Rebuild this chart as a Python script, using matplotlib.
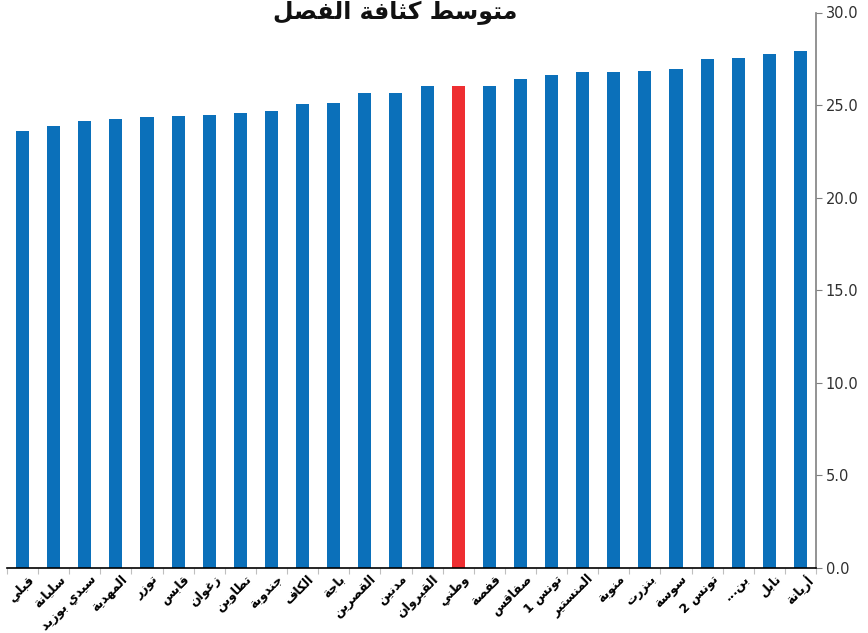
import matplotlib
matplotlib.use("Agg")
import matplotlib.pyplot as plt
import numpy as np

# ---------------- data ----------------
labels = ["قبلي", "سليانة", "سيدي بوزيد", "المهدية", "توزر", "قابس", "زغوان",
          "تطاوين", "جندوبة", "الكاف", "باجة", "القصرين", "مدنين", "القيروان",
          "وطني", "قفصة", "صفاقس", "تونس 1", "المنستير", "منوبة", "بنزرت",
          "سوسة", "تونس 2", "بن...", "نابل", "أريانة"]
values = [23.60, 23.87, 24.14, 24.24, 24.35, 24.41, 24.46, 24.57, 24.68, 25.05,
          25.11, 25.65, 25.65, 26.03, 26.03, 26.03, 26.40, 26.62, 26.78, 26.78,
          26.84, 26.94, 27.48, 27.54, 27.75, 27.92]
highlight = "وطني"
title = "متوسط كثافة الفصل"
yticks = [0, 5, 10, 15, 20, 25, 30]

# ---------------- minimal Arabic shaping (presentation forms) ----------------
FORMS = {
    '\u0627': ('\uFE8D', '\uFE8E', None, None),
    '\u0623': ('\uFE83', '\uFE84', None, None),
    '\u0625': ('\uFE87', '\uFE88', None, None),
    '\u0622': ('\uFE81', '\uFE82', None, None),
    '\u0628': ('\uFE8F', '\uFE90', '\uFE91', '\uFE92'),
    '\u0629': ('\uFE93', '\uFE94', None, None),
    '\u062A': ('\uFE95', '\uFE96', '\uFE97', '\uFE98'),
    '\u062B': ('\uFE99', '\uFE9A', '\uFE9B', '\uFE9C'),
    '\u062C': ('\uFE9D', '\uFE9E', '\uFE9F', '\uFEA0'),
    '\u062D': ('\uFEA1', '\uFEA2', '\uFEA3', '\uFEA4'),
    '\u062E': ('\uFEA5', '\uFEA6', '\uFEA7', '\uFEA8'),
    '\u062F': ('\uFEA9', '\uFEAA', None, None),
    '\u0630': ('\uFEAB', '\uFEAC', None, None),
    '\u0631': ('\uFEAD', '\uFEAE', None, None),
    '\u0632': ('\uFEAF', '\uFEB0', None, None),
    '\u0633': ('\uFEB1', '\uFEB2', '\uFEB3', '\uFEB4'),
    '\u0634': ('\uFEB5', '\uFEB6', '\uFEB7', '\uFEB8'),
    '\u0635': ('\uFEB9', '\uFEBA', '\uFEBB', '\uFEBC'),
    '\u0636': ('\uFEBD', '\uFEBE', '\uFEBF', '\uFEC0'),
    '\u0637': ('\uFEC1', '\uFEC2', '\uFEC3', '\uFEC4'),
    '\u0638': ('\uFEC5', '\uFEC6', '\uFEC7', '\uFEC8'),
    '\u0639': ('\uFEC9', '\uFECA', '\uFECB', '\uFECC'),
    '\u063A': ('\uFECD', '\uFECE', '\uFECF', '\uFED0'),
    '\u0641': ('\uFED1', '\uFED2', '\uFED3', '\uFED4'),
    '\u0642': ('\uFED5', '\uFED6', '\uFED7', '\uFED8'),
    '\u0643': ('\uFED9', '\uFEDA', '\uFEDB', '\uFEDC'),
    '\u0644': ('\uFEDD', '\uFEDE', '\uFEDF', '\uFEE0'),
    '\u0645': ('\uFEE1', '\uFEE2', '\uFEE3', '\uFEE4'),
    '\u0646': ('\uFEE5', '\uFEE6', '\uFEE7', '\uFEE8'),
    '\u0647': ('\uFEE9', '\uFEEA', '\uFEEB', '\uFEEC'),
    '\u0648': ('\uFEED', '\uFEEE', None, None),
    '\u0649': ('\uFEEF', '\uFEF0', None, None),
    '\u064A': ('\uFEF1', '\uFEF2', '\uFEF3', '\uFEF4'),
}
LAMALEF = {'\u0627': ('\uFEFB', '\uFEFC'), '\u0623': ('\uFEF7', '\uFEF8'),
           '\u0625': ('\uFEF9', '\uFEFA'), '\u0622': ('\uFEF5', '\uFEF6')}


def shape_line(s):
    chars = list(s)
    n = len(chars)
    res = []
    i = 0
    while i < n:
        c = chars[i]
        if c not in FORMS:
            res.append(c)
            i += 1
            continue
        prev = chars[i - 1] if i > 0 else None
        jp = prev in FORMS and FORMS[prev][2] is not None
        nxt = chars[i + 1] if i < n - 1 else None
        if c == '\u0644' and nxt in LAMALEF:
            res.append(LAMALEF[nxt][1] if jp else LAMALEF[nxt][0])
            i += 2
            continue
        f = FORMS[c]
        jn = f[2] is not None and nxt in FORMS
        if jp and jn:
            g = f[3]
        elif jp:
            g = f[1]
        elif jn:
            g = f[2]
        else:
            g = f[0]
        res.append(g)
        i += 1
    return ''.join(reversed(res))


def shape(s):
    return '\n'.join(shape_line(line) for line in s.split('\n'))


# ---------------- plot ----------------
plt.rcParams['font.family'] = ['DejaVu Sans']
fig = plt.figure(figsize=(8.68, 6.33), dpi=100)
ax = fig.add_axes([7 / 868, (633 - 568) / 633, (816 - 7) / 868, (568 - 12.5) / 633])

x = np.arange(len(values))
colors = ['#EE2E31' if l == highlight else '#0B70BA' for l in labels]
ax.bar(x, values, width=0.42, color=colors, zorder=2)

ax.set_xlim(-0.5, len(values) - 0.5)
ax.set_ylim(0, 30)

ax.yaxis.tick_right()
ax.set_yticks(yticks)
ax.set_yticklabels([f"{v:.1f}" for v in yticks], fontsize=10.5, color='#303030')
ax.tick_params(axis='y', length=4, width=0.8, color='#808080', pad=3, direction='out')

ax.set_xticks(np.arange(-0.5, len(values), 1.0))
ax.set_xticklabels([])
ax.tick_params(axis='x', length=4, width=0.8, color='#BFBFBF', direction='out')

for i, l in enumerate(labels):
    ax.text(i + 0.15, -0.25, shape(l), rotation=45, ha='right', va='top',
            rotation_mode='anchor', fontsize=9, fontweight='bold',
            transform=ax.transData, clip_on=False)

for s in ['top', 'left']:
    ax.spines[s].set_visible(False)
ax.spines['right'].set_color('#808080')
ax.spines['right'].set_linewidth(1.2)
ax.spines['bottom'].set_color('black')
ax.spines['bottom'].set_linewidth(1.2)

fig.text(395 / 868, 1 - 19 / 633, shape(title), ha='center', va='baseline',
         fontsize=17, fontweight='bold', color='#111111')

fig.savefig('out.png', dpi=100)
